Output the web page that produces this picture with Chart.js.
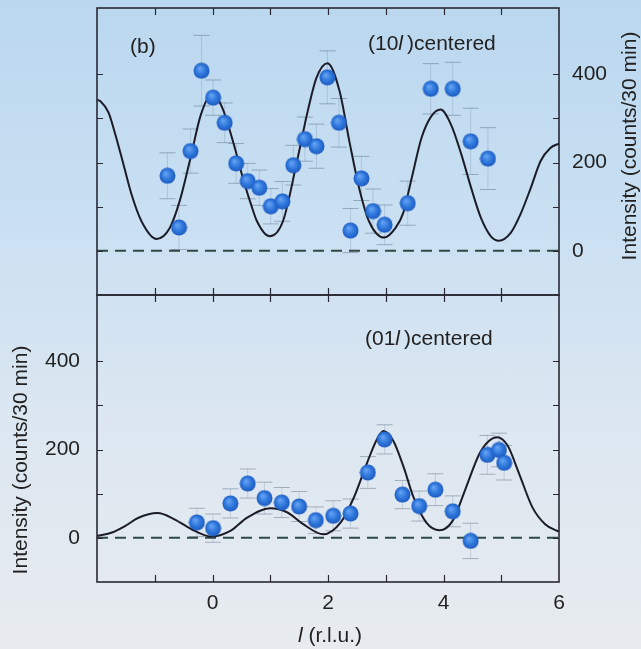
<!DOCTYPE html>
<html>
<head>
  <meta charset="UTF-8">
  <title>Intensity vs l (b)</title>
  <script src="https://cdn.jsdelivr.net/npm/chart.js"></script>
  <style>
    body {
      margin: 0; width: 641px; height: 649px; overflow: hidden; position: relative;
      background: linear-gradient(180deg, #bad7ef 0%, #cae0f2 35%, #dce7f1 65%, #e7ebef 100%);
    }
    canvas { position: absolute; left: 0; }
  </style>
</head>
<body>
  <canvas id="topPanel" width="641" height="300" style="top:0"></canvas>
  <canvas id="bottomPanel" width="641" height="359" style="top:290px"></canvas>

  <script>
    // (10l) centered -- measured points, error bars and the model curve
    const topL   = [-0.78, -0.58, -0.38, -0.19, 0.01, 0.21, 0.41, 0.61, 0.81, 1.01, 1.21, 1.40, 1.60, 1.80, 1.99, 2.19, 2.39, 2.58, 2.78, 2.98, 3.38, 3.78, 4.16, 4.47, 4.77];
    const topI   = [170, 53, 226, 408, 347, 290, 198, 158, 143, 101, 112, 194, 253, 237, 393, 290, 46, 164, 90, 59, 108, 367, 367, 248, 209];
    const topErr = [52, 50, 50, 80, 40, 45, 45, 40, 40, 40, 45, 45, 50, 50, 60, 55, 50, 50, 50, 45, 50, 57, 60, 75, 70];
    const fitTopL = [-2.0, -1.94, -1.80, -1.69, -1.54, -1.40, -1.23, -0.97, -0.74, -0.57, -0.38, -0.20, 0.0, 0.17, 0.37, 0.54, 0.66, 0.77, 0.99, 1.22, 1.45, 1.65, 1.80, 1.99, 2.20, 2.37, 2.54, 2.71, 2.97, 3.17, 3.30, 3.45, 3.62, 3.79, 3.95, 4.13, 4.31, 4.48, 4.65, 4.82, 4.96, 5.16, 5.33, 5.51, 5.68, 5.85, 6.0];
    const fitTopI = [342, 339, 313, 267, 195, 127, 67, 27, 52, 112, 211, 309, 357, 324, 241, 158, 108, 67, 33, 67, 195, 317, 392, 425, 362, 248, 142, 67, 30, 52, 85, 165, 256, 305, 320, 286, 218, 142, 74, 33, 23, 40, 82, 142, 203, 233, 243];

    // (01l) centered
    const botL   = [-0.27, 0.01, 0.31, 0.61, 0.90, 1.20, 1.50, 1.79, 2.09, 2.39, 2.69, 2.98, 3.29, 3.58, 3.86, 4.16, 4.47, 4.76, 4.96, 5.05];
    const botI   = [35, 22, 78, 123, 90, 80, 71, 40, 50, 55, 148, 223, 98, 72, 109, 60, -7, 188, 199, 170];
    const botErr = [32, 32, 33, 33, 36, 34, 34, 30, 34, 33, 36, 33, 32, 34, 36, 35, 40, 44, 38, 39];
    const fitBotL = [-2.0, -1.74, -1.51, -1.29, -0.95, -0.66, -0.37, -0.03, 0.31, 0.60, 1.00, 1.29, 1.57, 1.92, 2.22, 2.45, 2.68, 2.85, 2.96, 3.13, 3.31, 3.48, 3.70, 3.93, 4.16, 4.39, 4.62, 4.79, 4.93, 5.11, 5.31, 5.54, 5.76, 6.0];
    const fitBotI = [4, 12, 27, 45, 56, 42, 20, 3, 16, 46, 67, 58, 31, 8, 35, 92, 171, 224, 242, 220, 160, 92, 35, 17, 39, 114, 190, 220, 228, 209, 145, 69, 31, 14];

    const zeroL = [-2, 6];
    const xRange = [-2, 6];
    const yRange = [-100, 550];
    const xLabels = [0, 2, 4, 6];
    const yLabels = [0, 200, 400];

    const FONT = '"Liberation Sans", Arial, sans-serif';
    const INK = '#222';
    Chart.defaults.font.family = FONT;
    Chart.defaults.font.size = 21;
    Chart.defaults.color = INK;

    // shaded blue ball used as the point marker
    const ball = document.createElement('canvas');
    ball.width = 17; ball.height = 17;
    (function () {
      const c = ball.getContext('2d');
      const g = c.createRadialGradient(6.5, 6, 0.5, 8.5, 8.5, 8.5);
      g.addColorStop(0, '#64a3f3');
      g.addColorStop(0.55, '#2f77dc');
      g.addColorStop(1, '#1c58bd');
      c.fillStyle = g;
      c.beginPath(); c.arc(8.5, 8.5, 8, 0, Math.PI * 2); c.fill();
    })();

    const pts = (xs, ys) => xs.map((x, i) => ({ x: x, y: ys[i] }));

    // frame + inward tick marks on all four sides
    const frameTicks = {
      id: 'frameTicks',
      afterDatasetsDraw(chart) {
        const { ctx, chartArea: a, scales: { x, y } } = chart;
        ctx.save();
        ctx.strokeStyle = '#2a2835';
        ctx.lineWidth = 1.2;
        ctx.beginPath();
        x.ticks.forEach(t => {
          if (t.value <= x.min || t.value >= x.max) return;
          const px = Math.round(x.getPixelForValue(t.value)) + 0.5;
          ctx.moveTo(px, a.top); ctx.lineTo(px, a.top + 7);
          ctx.moveTo(px, a.bottom); ctx.lineTo(px, a.bottom - 7);
        });
        y.ticks.forEach(t => {
          if (t.value % 100 !== 0 || t.value <= y.min || t.value >= y.max) return;
          const py = Math.round(y.getPixelForValue(t.value)) + 0.5;
          ctx.moveTo(a.left, py); ctx.lineTo(a.left + 6, py);
          ctx.moveTo(a.right, py); ctx.lineTo(a.right - 6, py);
        });
        ctx.stroke();
        ctx.lineWidth = 1.6;
        ctx.strokeRect(a.left, a.top, a.right - a.left, a.bottom - a.top);
        ctx.restore();
      }
    };

    // faint error bars for datasets that carry an `errors` array
    const errorBars = {
      id: 'errorBars',
      beforeDatasetsDraw(chart) {
        const { ctx, scales: { x, y } } = chart;
        ctx.save();
        chart.data.datasets.forEach(ds => {
          if (!ds.errors) return;
          ds.data.forEach((p, i) => {
            const px = x.getPixelForValue(p.x);
            const y1 = y.getPixelForValue(p.y + ds.errors[i]);
            const y2 = y.getPixelForValue(p.y - ds.errors[i]);
            ctx.strokeStyle = 'rgba(120,140,170,0.3)';
            ctx.lineWidth = 1;
            ctx.beginPath(); ctx.moveTo(px, y1); ctx.lineTo(px, y2); ctx.stroke();
            ctx.strokeStyle = 'rgba(70,85,110,0.4)';
            ctx.beginPath();
            ctx.moveTo(px - 8, y1); ctx.lineTo(px + 8, y1);
            ctx.moveTo(px - 8, y2); ctx.lineTo(px + 8, y2);
            ctx.stroke();
          });
        });
        ctx.restore();
      }
    };

    function drawParts(ctx, x, y, parts, align) {
      ctx.save();
      ctx.fillStyle = INK;
      ctx.textBaseline = 'middle';
      ctx.textAlign = 'left';
      const fontOf = it => (it ? 'italic ' : '') + '21px ' + FONT;
      let total = 0;
      parts.forEach(p => {
        if (typeof p === 'number') { total += p; return; }
        ctx.font = fontOf(p[1]); total += ctx.measureText(p[0]).width;
      });
      let cx = align === 'center' ? x - total / 2 : x;
      parts.forEach(p => {
        if (typeof p === 'number') { cx += p; return; }
        ctx.font = fontOf(p[1]);
        ctx.fillText(p[0], cx, y);
        cx += ctx.measureText(p[0]).width;
      });
      ctx.restore();
    }

    function rotatedTitle(ctx, x, y, text) {
      ctx.save();
      ctx.translate(x, y);
      ctx.rotate(-Math.PI / 2);
      ctx.font = '21px ' + FONT;
      ctx.fillStyle = INK;
      ctx.textAlign = 'center';
      ctx.textBaseline = 'middle';
      ctx.fillText(text, 0, 0);
      ctx.restore();
    }

    function datasets(L, I, err, fL, fI) {
      return [
        { data: pts(L, I), errors: err, pointStyle: ball, pointRadius: 8, order: 0 },
        { data: pts(fL, fI), showLine: true, pointRadius: 0, borderColor: '#1c1c28', borderWidth: 2,
          cubicInterpolationMode: 'monotone', order: 1 },
        { data: pts(zeroL, [0, 0]), showLine: true, pointRadius: 0, borderColor: '#2f4a44', borderWidth: 2,
          borderDash: [11, 7], order: 2 }
      ];
    }

    // fixed axis sizes, and no extra label padding pushed into the layout
    const fixSize = (w, h) => s => {
      if (w !== null) s.width = w;
      if (h !== null) s.height = h;
      s.paddingTop = 0; s.paddingBottom = 0; s.paddingLeft = 0; s.paddingRight = 0;
    };

    function yScale(position, padding) {
      return {
        type: 'linear', position: position, min: yRange[0], max: yRange[1],
        grid: { display: false, drawTicks: false }, border: { display: false },
        ticks: { stepSize: 100, autoSkip: false, padding: padding,
          callback: v => yLabels.includes(v) ? String(v) : '' },
        afterFit: fixSize(position === 'right' ? 82 : 97, null)
      };
    }

    const common = {
      responsive: false, animation: false, devicePixelRatio: 1,
      plugins: { legend: { display: false }, tooltip: { enabled: false } }
    };

    new Chart(document.getElementById('topPanel'), {
      type: 'scatter',
      data: { datasets: datasets(topL, topI, topErr, fitTopL, fitTopI) },
      options: Object.assign({}, common, {
        layout: { autoPadding: false, padding: { left: 97, top: 8, right: 0, bottom: 5 } },
        scales: {
          x: { type: 'linear', min: xRange[0], max: xRange[1],
               grid: { display: false, drawTicks: false }, border: { display: false },
               ticks: { display: false, stepSize: 1 },
               afterFit: fixSize(null, 0) },
          y: yScale('right', 13)
        }
      }),
      plugins: [errorBars, frameTicks, {
        id: 'topText',
        afterDraw(chart) {
          const ctx = chart.ctx;
          drawParts(ctx, 130, 47, [['(b)']]);
          drawParts(ctx, 368, 44, [['(10'], ['l', true], 4, [')centered']]);
          rotatedTitle(ctx, 630, 146, 'Intensity (counts/30 min)');
        }
      }]
    });

    new Chart(document.getElementById('bottomPanel'), {
      type: 'scatter',
      data: { datasets: datasets(botL, botI, botErr, fitBotL, fitBotI) },
      options: Object.assign({}, common, {
        layout: { autoPadding: false, padding: { left: 0, top: 5, right: 82, bottom: 0 } },
        scales: {
          x: { type: 'linear', min: xRange[0], max: xRange[1],
               grid: { display: false, drawTicks: false }, border: { display: false },
               ticks: { stepSize: 1, autoSkip: false, maxRotation: 0, padding: 9,
                 callback: v => xLabels.includes(v) ? String(v) : '' },
               afterFit: fixSize(null, 67) },
          y: yScale('left', 17)
        }
      }),
      plugins: [errorBars, frameTicks, {
        id: 'bottomText',
        afterDraw(chart) {
          const ctx = chart.ctx;
          drawParts(ctx, 365, 49, [['(01'], ['l', true], 4, [')centered']]);
          rotatedTitle(ctx, 21, 170, 'Intensity (counts/30 min)');
          drawParts(ctx, 330, 346, [['l', true], [' (r.l.u.)']], 'center');
        }
      }]
    });
  </script>
</body>
</html>
